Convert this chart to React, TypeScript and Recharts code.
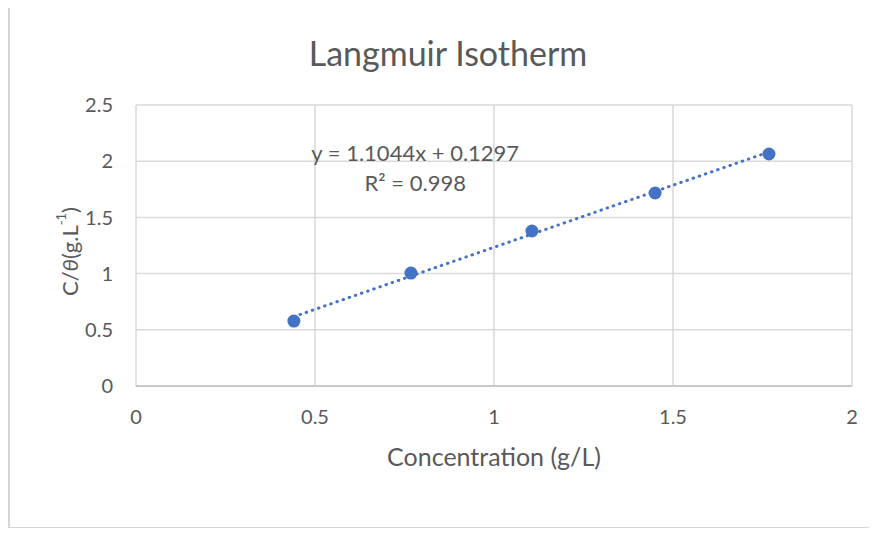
import React from "react";
import {
  ScatterChart,
  Scatter,
  XAxis,
  YAxis,
  CartesianGrid,
  ReferenceLine,
  ReferenceDot,
} from "recharts";

// Data
const concentration = [0.441, 0.768, 1.106, 1.45, 1.768];
const cOverTheta = [0.578, 1.005, 1.379, 1.717, 2.064];
const xTicks = [0, 0.5, 1, 1.5, 2];
const yTicks = [0, 0.5, 1, 1.5, 2, 2.5];
const slope = 1.1044;
const intercept = 0.1297;
const equationLabel = "y = 1.1044x + 0.1297";
const r2Label = "R² = 0.998";
const titleText = "Langmuir Isotherm";
const xLabelText = "Concentration (g/L)";

const points = concentration.map((x, i) => ({ x, y: cOverTheta[i] }));
const xMin = Math.min(...concentration);
const xMax = Math.max(...concentration);

const FONT = "Lato, 'Noto Sans', sans-serif";
const GRAY = "#595959";
const GRID = "#d9d9d9";
const BLUE = "#4472C4";
const FRAME = "#d6d6d6";

const W = 877;
const H = 536;

const YLabel = (props: any) => {
  const vb = props.viewBox || {};
  const cx = 69;
  const cy = vb.y + vb.height / 2 + 6;
  return (
    <text
      x={cx}
      y={cy}
      transform={`rotate(-90, ${cx}, ${cy})`}
      textAnchor="middle"
      dominantBaseline="central"
      fill={GRAY}
      fontSize={22}
      fontFamily={FONT}
    >
      <tspan>C/</tspan>
      <tspan fontStyle="italic">θ</tspan>
      <tspan>(g.L</tspan>
      <tspan fontSize={13} dy={-8}>-1</tspan>
      <tspan dy={8}>)</tspan>
    </text>
  );
};

const TextAt = (text: string) => (props: any) => {
  const vb = props.viewBox || {};
  const x = vb.x + (vb.width || 0) / 2;
  const y = vb.y + (vb.height || 0) / 2;
  return (
    <text
      x={x}
      y={y}
      textAnchor="middle"
      dominantBaseline="central"
      fill={GRAY}
      fontSize={22}
      fontFamily={FONT}
    >
      {text}
    </text>
  );
};

export default function App() {
  return (
    <div style={{ position: "relative", width: W, height: H, margin: -8, overflow: "hidden", background: "#fff" }}>
      <div style={{ position: "absolute", left: 9, top: 6, width: 868, height: 2, background: FRAME }} />
      <div style={{ position: "absolute", left: 9, top: 527, width: 868, height: 2, background: FRAME }} />
      <div style={{ position: "absolute", left: 8, top: 6, width: 2, height: 523, background: FRAME }} />
      <div style={{ position: "absolute", left: 0, top: 0 }}>
        <ScatterChart
          width={W}
          height={H}
          margin={{ top: 105, right: 25, bottom: 120, left: 76 }}
        >
          <text
            x={448}
            y={52}
            textAnchor="middle"
            dominantBaseline="central"
            fill={GRAY}
            fontSize={34}
            fontFamily={FONT}
          >
            {titleText}
          </text>
          <CartesianGrid stroke={GRID} strokeWidth={1.5} />
          <XAxis
            type="number"
            dataKey="x"
            domain={[0, 2]}
            ticks={xTicks}
            tickFormatter={(v) => String(v)}
            axisLine={{ stroke: "#bfbfbf", strokeWidth: 1.5 }}
            tickLine={false}
            tickSize={0}
            tickMargin={24}
            height={30}
            tick={{ fill: GRAY, fontSize: 20, fontFamily: FONT }}
            label={{
              value: xLabelText,
              position: "bottom",
              offset: 32,
              fill: GRAY,
              fontSize: 25,
              fontFamily: FONT,
            }}
          />
          <YAxis
            type="number"
            dataKey="y"
            domain={[0, 2.5]}
            ticks={yTicks}
            tickFormatter={(v) => String(v)}
            axisLine={false}
            tickLine={false}
            tickSize={0}
            tickMargin={23}
            width={60}
            tick={{ fill: GRAY, fontSize: 20, fontFamily: FONT }}
            label={<YLabel />}
          />
          <ReferenceLine
            segment={[
              { x: xMin, y: slope * xMin + intercept },
              { x: xMax, y: slope * xMax + intercept },
            ]}
            stroke={BLUE}
            strokeWidth={3}
            strokeDasharray="0.5 6"
            strokeLinecap="round"
            ifOverflow="visible"
          />
          <ReferenceDot x={0.78} y={2.08} r={0} stroke="none" fill="none" label={TextAt(equationLabel)} />
          <ReferenceDot x={0.78} y={1.81} r={0} stroke="none" fill="none" label={TextAt(r2Label)} />
          <Scatter
            data={points}
            fill={BLUE}
            isAnimationActive={false}
            shape={(p: any) => <circle cx={p.cx} cy={p.cy} r={6.5} fill={BLUE} />}
          />
        </ScatterChart>
      </div>
    </div>
  );
}
